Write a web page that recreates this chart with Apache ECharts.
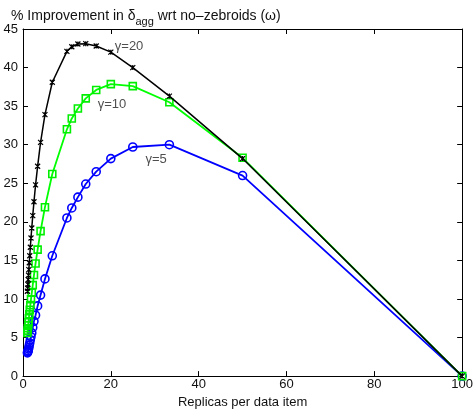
<!DOCTYPE html>
<html>
<head>
<meta charset="utf-8">
<script src="https://cdn.jsdelivr.net/npm/echarts@6/dist/echarts.min.js"></script>
<style>html,body{margin:0;padding:0;background:#fff}#c{width:476px;height:414px}</style>
</head>
<body>
<div id="c"></div>
<script>
// Replicas per data item (x) shared by all three curves
var replicas = [1, 1.05, 1.11, 1.18, 1.25, 1.33, 1.43, 1.54, 1.67, 1.82, 2, 2.22, 2.5, 2.86, 3.33, 4, 5, 6.67, 10, 11.11, 12.5, 14.29, 16.67, 20, 25, 33.33, 50, 100];
// % improvement, gamma = 20 (black)
var gamma20 = [11.0, 11.4, 11.9, 12.5, 13.1, 13.8, 14.7, 15.6, 16.7, 17.9, 19.2, 20.8, 22.6, 24.8, 27.2, 30.3, 33.9, 38.1, 42.1, 42.7, 43.05, 43.1, 42.8, 42.0, 40.0, 36.3, 28.2, 0];
// gamma = 10 (green)
var gamma10 = [5.6, 5.9, 6.2, 6.6, 7.0, 7.5, 8.0, 8.6, 9.2, 9.96, 10.8, 11.8, 13.1, 14.6, 16.4, 18.8, 21.9, 26.2, 32.0, 33.4, 34.7, 36.0, 37.1, 37.85, 37.6, 35.5, 28.3, 0];
// gamma = 5 (blue)
var gamma5 = [3.0, 3.1, 3.2, 3.3, 3.5, 3.7, 4.0, 4.3, 4.7, 5.1, 5.6, 6.3, 7.1, 7.9, 9.1, 10.5, 12.6, 15.6, 20.5, 21.8, 23.2, 24.9, 26.5, 28.2, 29.7, 30.0, 26.0, 0];
// curve annotations: text and anchor in data coordinates
var curveLabels = ['γ=20', 'γ=10', 'γ=5'];
var labelX = [20.9, 17.0, 27.9];
var labelY = [42.7, 35.2, 28.15];

var xTicks = [0, 20, 40, 60, 80, 100];
var yTicks = [0, 5, 10, 15, 20, 25, 30, 35, 40, 45];

function pairs(xs, ys) { return xs.map(function (x, i) { return [x, ys[i]]; }); }

var font = 'Liberation Sans, Arial, Helvetica, sans-serif';
var chart = echarts.init(document.getElementById('c'), null, {renderer: 'canvas'});

var axisCommon = {
  axisLine: {show: true, onZero: false, lineStyle: {color: '#000', width: 1}},
  axisTick: {show: true, inside: true, length: 5, lineStyle: {color: '#000'}},
  splitLine: {show: false}
};

chart.setOption({
  animation: false,
  backgroundColor: '#fff',
  title: {
    text: '% Improvement in δ{sub|agg} wrt no–zebroids (ω)',
    left: 6, top: 0,
    textStyle: {
      fontFamily: font, fontSize: 14, fontWeight: 'normal', color: '#111',
      rich: {sub: {fontFamily: font, fontSize: 11, color: '#111', verticalAlign: 'bottom', padding: [11, 0, 0, 0]}}
    }
  },
  grid: {left: 23, right: 13, top: 29, bottom: 37},
  xAxis: [
    Object.assign({}, axisCommon, {
      type: 'value', min: 0, max: 100, interval: 20, position: 'bottom',
      name: 'Replicas per data item', nameLocation: 'middle', nameGap: 18,
      nameTextStyle: {fontFamily: font, fontSize: 13, color: '#111'},
      axisLabel: {fontFamily: font, fontSize: 13, color: '#111', margin: 2}
    }),
    Object.assign({}, axisCommon, {
      type: 'value', min: 0, max: 100, interval: 20, position: 'top',
      axisLabel: {show: false}
    })
  ],
  yAxis: [
    Object.assign({}, axisCommon, {
      type: 'value', min: 0, max: 45, interval: 5, position: 'left',
      axisLabel: {fontFamily: font, fontSize: 13, color: '#111', margin: 5}
    }),
    Object.assign({}, axisCommon, {
      type: 'value', min: 0, max: 45, interval: 5, position: 'right',
      axisLabel: {show: false}
    })
  ],
  series: [
    {
      type: 'line', name: 'γ=5', data: pairs(replicas, gamma5),
      symbol: 'circle', symbolSize: 8, showAllSymbol: true,
      lineStyle: {color: '#0000ff', width: 1.8},
      itemStyle: {color: 'rgba(0,0,0,0)', borderColor: '#0000ff', borderWidth: 1.6},
      z: 2
    },
    {
      type: 'line', name: 'γ=10', data: pairs(replicas, gamma10),
      symbol: 'rect', symbolSize: 7, showAllSymbol: true,
      lineStyle: {color: '#00ff00', width: 1.8},
      itemStyle: {color: 'rgba(0,0,0,0)', borderColor: '#00ee00', borderWidth: 1.6},
      z: 3
    },
    {
      type: 'line', name: 'γ=20', data: pairs(replicas, gamma20),
      symbol: 'path://M0,0L10,10M10,0L0,10M5,0L5,10', symbolSize: 5, showAllSymbol: true,
      lineStyle: {color: '#000', width: 1.5},
      itemStyle: {color: 'rgba(0,0,0,0)', borderColor: '#000', borderWidth: 1.2},
      z: 4
    },
    {
      type: 'scatter', symbolSize: 0, silent: true,
      data: curveLabels.map(function (t, i) { return {value: [labelX[i], labelY[i]], name: t}; }),
      label: {
        show: true, position: 'right', distance: 0, formatter: '{b}',
        fontFamily: font, fontSize: 13, color: '#222'
      },
      z: 5
    }
  ]
});
</script>
</body>
</html>
